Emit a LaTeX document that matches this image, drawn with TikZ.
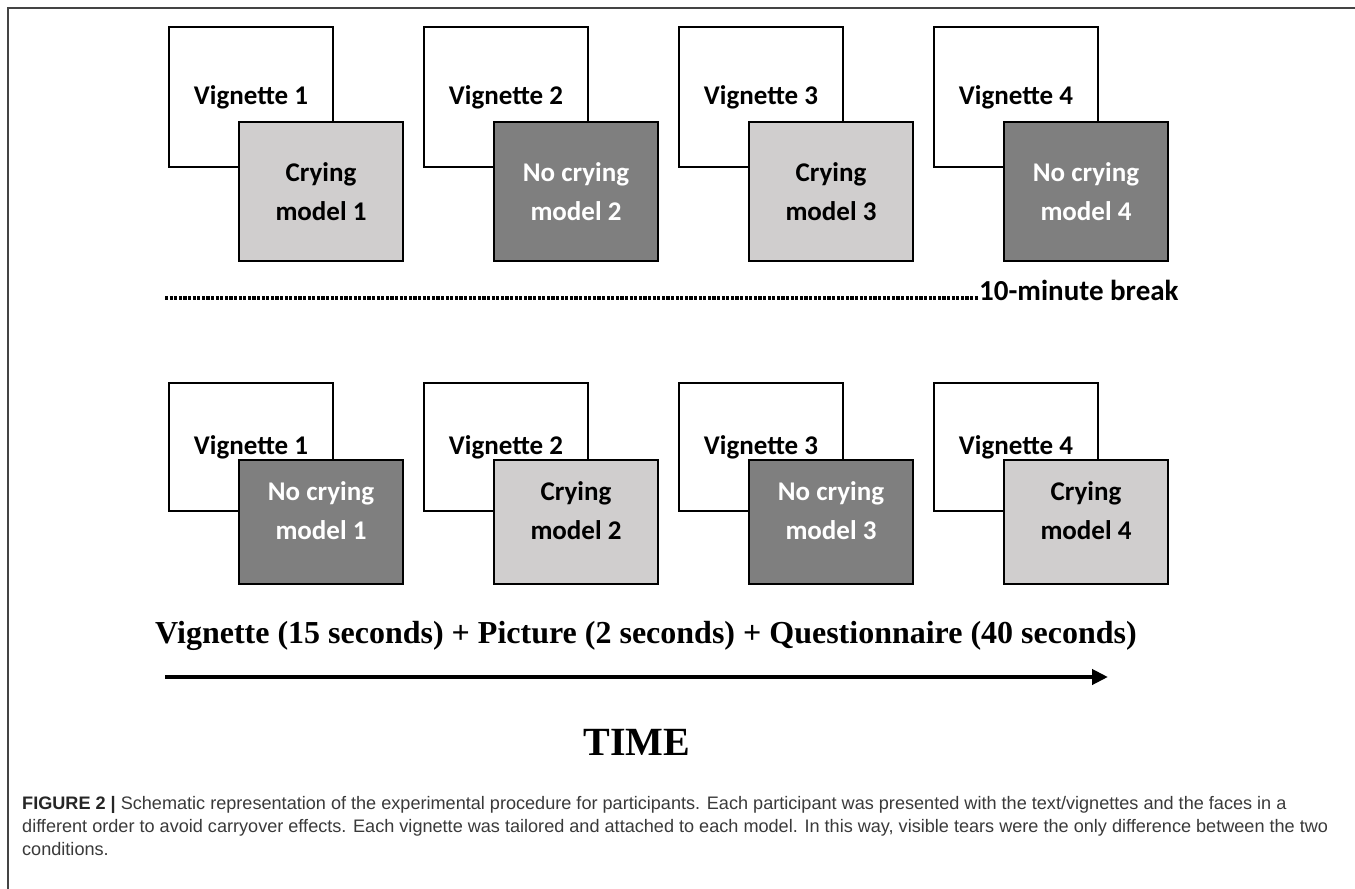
\documentclass[tikz,border=0pt]{standalone}
\usepackage{fontspec}
\setmainfont{Carlito}
\newfontfamily\timesfont{Liberation Serif}
\newfontfamily\capfont{Liberation Sans}
\usetikzlibrary{arrows.meta}
\definecolor{lightbox}{HTML}{D0CECE}
\definecolor{darkbox}{HTML}{7F7F7F}
\definecolor{captext}{HTML}{3A3A3A}
\definecolor{framecol}{HTML}{444444}
\begin{document}
\begin{tikzpicture}[x=1pt,y=-1pt,
  boxbase/.style={draw=black, line width=2.2pt, inner sep=0pt, align=center,
    font=\bfseries\fontsize{27}{39}\selectfont},
  boxtext/.style={inner sep=0pt, align=center, font=\bfseries\fontsize{27}{39}\selectfont},
  vigbox/.style={boxbase, fill=white, minimum width=164pt, minimum height=140pt},
  cryA/.style={boxbase, fill=lightbox, text=black, minimum width=164pt, minimum height=139pt},
  cryB/.style={boxbase, fill=darkbox, text=white, minimum width=164pt, minimum height=139pt},
  vigboxL/.style={boxbase, fill=white, minimum width=164pt, minimum height=128pt},
  cryAL/.style={boxbase, fill=lightbox, minimum width=164pt, minimum height=124pt},
  cryBL/.style={boxbase, fill=darkbox, minimum width=164pt, minimum height=124pt},
  captxt/.style={anchor=base west, inner sep=0pt, text=captext, font=\capfont\fontsize{18.1}{23}\selectfont}
]
\useasboundingbox (0,0) rectangle (1355,889);
\fill[white] (0,0) rectangle (1355,889);
% frame
\coordinate (fbl) at (8,889);
\coordinate (ftl) at (8,8);
\coordinate (ftr) at (1355,8);
\draw[framecol, line width=1.5pt] (fbl) -- (ftl) -- (ftr);

% top row
\foreach \i/\sty/\lab in {0/cryA/Crying, 1/cryB/No crying, 2/cryA/Crying, 3/cryB/No crying}{
  \pgfmathtruncatemacro{\n}{\i+1}
  \node[vigbox] (tv\n) at ({251+255*\i},97) {Vignette \n};
  \node[\sty] (tc\n) at ({321+255*\i},191.5) {\lab\\model \n};
}
% bottom row
\foreach \i/\sty/\col/\lab in {0/cryBL/white/No crying, 1/cryAL/black/Crying, 2/cryBL/white/No crying, 3/cryAL/black/Crying}{
  \pgfmathtruncatemacro{\n}{\i+1}
  \node[vigboxL] (bv\n) at ({251+255*\i},447) {Vignette \n};
  \node[\sty] (bc\n) at ({321+255*\i},522) {};
  \node[boxtext, text=\col] (bt\n) at ([yshift=11pt]bc\n.center) {\lab\\model \n};
}

% break line
\node[anchor=base west, inner sep=0pt, font=\bfseries\fontsize{29}{34}\selectfont] (brk) at (979,300) {10-minute break};
\coordinate (dstart) at (165,297.5);
\draw[line width=4pt, dash pattern=on 3.2pt off 1.4pt] (dstart) -- (brk.west |- dstart);

% timing text
\node[font=\timesfont\bfseries\fontsize{32}{38}\selectfont, inner sep=0pt] (timing) at (646,636) {Vignette (15 seconds) + Picture (2 seconds) + Questionnaire (40 seconds)};
\coordinate (as) at (165,677);
\coordinate (ae) at (1108,677);
\draw[line width=4pt, -{Triangle[length=16pt,width=15pt]}] (as) -- (ae);
\node[font=\timesfont\bfseries\fontsize{40}{46}\selectfont, inner sep=0pt] (time) at (637,742) {TIME};

% caption
\node[captxt] (cap1) at (22,809) {{\bfseries\color{black!85}FIGURE 2 |} Schematic representation of the experimental procedure for participants. Each participant was presented with the text/vignettes and the faces in a};
\node[captxt] (cap2) at (22,832) {different order to avoid carryover effects. Each vignette was tailored and attached to each model. In this way, visible tears were the only difference between the two};
\node[captxt] (cap3) at (22,855) {conditions.};
\end{tikzpicture}
\end{document}
